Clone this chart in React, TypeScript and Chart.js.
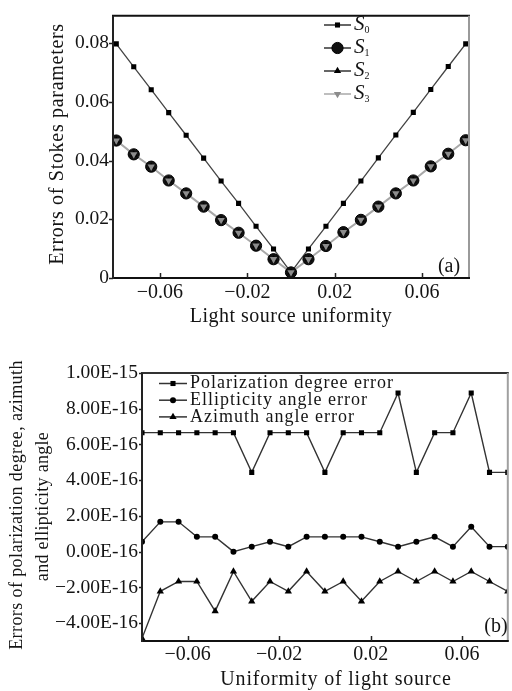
import React, { useEffect, useRef } from 'react';
import { Chart, registerables } from 'chart.js';
import { drawPoint } from 'chart.js/helpers';

Chart.register(...registerables);

// ---------- data ----------
const X_VALUES = [-0.08, -0.072, -0.064, -0.056, -0.048, -0.04, -0.032, -0.024, -0.016, -0.008, 0, 0.008, 0.016, 0.024, 0.032, 0.04, 0.048, 0.056, 0.064, 0.072, 0.08];

// panel (a): Stokes parameter errors
const S0 = [0.0797, 0.0719, 0.0641, 0.0563, 0.0486, 0.0408, 0.033, 0.0254, 0.0176, 0.0099, 0.0019, 0.0099, 0.0176, 0.0254, 0.033, 0.0409, 0.0487, 0.0564, 0.0642, 0.072, 0.0797];
const S1 = [0.0468, 0.0421, 0.0379, 0.0332, 0.0288, 0.0243, 0.0197, 0.0154, 0.011, 0.0064, 0.0019, 0.0064, 0.0109, 0.0156, 0.0198, 0.0243, 0.0288, 0.0332, 0.038, 0.0423, 0.0469];
const S2 = [0.0468, 0.0421, 0.0379, 0.0332, 0.0288, 0.0243, 0.0197, 0.0154, 0.011, 0.0064, 0.0019, 0.0064, 0.0109, 0.0156, 0.0198, 0.0243, 0.0288, 0.0332, 0.038, 0.0423, 0.0469];
const S3 = [0.0468, 0.0421, 0.0379, 0.0332, 0.0288, 0.0243, 0.0197, 0.0154, 0.011, 0.0064, 0.0019, 0.0064, 0.0109, 0.0156, 0.0198, 0.0243, 0.0288, 0.0332, 0.038, 0.0423, 0.0469];
const A_LEGEND_SUBS = ['0', '1', '2', '3'];
const A_X_TICKS = [-0.06, -0.02, 0.02, 0.06];
const A_X_LABELS = ['\u22120.06', '\u22120.02', '0.02', '0.06'];
const A_Y_TICKS = [0, 0.02, 0.04, 0.06, 0.08];
const A_Y_LABELS = ['0', '0.02', '0.04', '0.06', '0.08'];
const A_X_TITLE = 'Light source uniformity';
const A_Y_TITLE = 'Errors of Stokes parameters';
const A_PANEL = '(a)';

// panel (b): polarization errors
const POL_ERR = [6.66e-16, 6.66e-16, 6.66e-16, 6.66e-16, 6.66e-16, 6.66e-16, 4.44e-16, 6.66e-16, 6.66e-16, 6.66e-16, 4.44e-16, 6.66e-16, 6.66e-16, 6.66e-16, 8.88e-16, 4.44e-16, 6.66e-16, 6.66e-16, 8.88e-16, 4.44e-16, 4.44e-16];
const ELL_ERR = [0.555e-16, 1.67e-16, 1.67e-16, 0.83e-16, 0.83e-16, 0, 0.28e-16, 0.555e-16, 0.28e-16, 0.83e-16, 0.83e-16, 0.83e-16, 0.83e-16, 0.555e-16, 0.28e-16, 0.555e-16, 0.83e-16, 0.28e-16, 1.39e-16, 0.28e-16, 0.28e-16];
const AZI_ERR = [-4.85e-16, -2.22e-16, -1.67e-16, -1.67e-16, -3.33e-16, -1.11e-16, -2.78e-16, -1.67e-16, -2.22e-16, -1.11e-16, -2.22e-16, -1.67e-16, -2.78e-16, -1.67e-16, -1.11e-16, -1.67e-16, -1.11e-16, -1.67e-16, -1.11e-16, -1.67e-16, -2.22e-16];
const B_LEGEND = ['Polarization degree error', 'Ellipticity angle error', 'Azimuth angle error'];
const B_X_TICKS = [-0.06, -0.02, 0.02, 0.06];
const B_X_LABELS = ['\u22120.06', '\u22120.02', '0.02', '0.06'];
const B_Y_TICKS = [-4e-16, -2e-16, 0, 2e-16, 4e-16, 6e-16, 8e-16, 1e-15];
const B_Y_LABELS = ['\u22124.00E-16', '\u22122.00E-16', '0.00E-16', '2.00E-16', '4.00E-16', '6.00E-16', '8.00E-16', '1.00E-15'];
const B_X_TITLE = 'Uniformity of light source';
const B_Y_TITLE = ['Errors of polarization degree, azimuth', 'and ellipticity angle'];
const B_PANEL = '(b)';

// ---------- styling helpers ----------
const SERIF = '"Liberation Serif", "DejaVu Serif", serif';
const INK = '#141414';

type TextItem = { text: string; x: number; y: number; size: number; rotate?: number; spacing?: number; style?: string; align?: CanvasTextAlign };

function drawText(ctx: CanvasRenderingContext2D, t: TextItem) {
  ctx.save();
  ctx.font = `${t.style || 'normal'} ${t.size}px ${SERIF}`;
  ctx.fillStyle = INK;
  (ctx as any).letterSpacing = `${t.spacing || 0}px`;
  ctx.textAlign = t.align || 'center';
  ctx.textBaseline = 'middle';
  ctx.translate(t.x, t.y);
  if (t.rotate) ctx.rotate(t.rotate);
  ctx.fillText(t.text, 0, 0);
  ctx.restore();
}

type DecoCfg = {
  frame: { top: string; right: string; bottom: string; left: string };
  xTickLen: number;
  yTickLen: number;
  texts: TextItem[];
  legend: (ctx: CanvasRenderingContext2D, chart: any) => void;
};

function makeDeco(cfg: DecoCfg) {
  return {
    id: 'deco',
    afterDraw(chart: any) {
      const ctx: CanvasRenderingContext2D = chart.ctx;
      const { left, right, top, bottom } = chart.chartArea;
      ctx.save();
      ctx.lineWidth = 2;
      const seg = (c: string, x1: number, y1: number, x2: number, y2: number) => {
        ctx.strokeStyle = c;
        ctx.beginPath();
        ctx.moveTo(x1, y1);
        ctx.lineTo(x2, y2);
        ctx.stroke();
      };
      seg(cfg.frame.top, left - 1, top, right + 1, top);
      seg(cfg.frame.right, right, top, right, bottom);
      seg(cfg.frame.bottom, left - 1, bottom, right + 1, bottom);
      seg(cfg.frame.left, left, top, left, bottom + 1);
      ctx.lineWidth = 1.5;
      const xs = chart.scales.x;
      xs.ticks.forEach((t: any) => {
        const px = Math.round(xs.getPixelForValue(t.value)) + 0.5;
        seg('#222', px, bottom, px, bottom - cfg.xTickLen);
      });
      const ys = chart.scales.y;
      ys.ticks.forEach((t: any) => {
        const py = Math.round(ys.getPixelForValue(t.value)) + 0.5;
        seg('#222', left - cfg.yTickLen, py, left, py);
      });
      ctx.restore();
      cfg.texts.forEach((t) => drawText(ctx, t));
      cfg.legend(ctx, chart);
    },
  };
}

function legendMarker(ctx: CanvasRenderingContext2D, ds: any, x: number, y: number) {
  ctx.save();
  ctx.fillStyle = ds.pointBackgroundColor;
  ctx.strokeStyle = ds.pointBorderColor;
  ctx.lineWidth = ds.pointBorderWidth || 0;
  drawPoint(ctx, { pointStyle: ds.pointStyle, rotation: ds.pointRotation || 0, radius: ds.pointRadius, borderWidth: ds.pointBorderWidth || 0 }, x, y);
  ctx.restore();
}

const pts = (ys: number[]) => X_VALUES.map((x, i) => ({ x, y: ys[i] }));

const fixedTicks = (vals: number[]) => (s: any) => {
  s.ticks = vals.map((v) => ({ value: v }));
};

export default function App() {
  const refA = useRef<HTMLCanvasElement>(null);
  const refB = useRef<HTMLCanvasElement>(null);

  useEffect(() => {
    const legendALines = ['#333', '#333', '#333', '#a8a8a8'];
    const decoA = makeDeco({
      frame: { top: '#111', right: '#9a9a9a', bottom: '#111', left: '#222' },
      xTickLen: 5,
      yTickLen: 4,
      texts: [
        { text: A_Y_TITLE, x: 58, y: 144, size: 20, rotate: -Math.PI / 2, spacing: 0.7 },
        { text: A_X_TITLE, x: 291, y: 317, size: 20, spacing: 0.5 },
        { text: A_PANEL, x: 449, y: 267, size: 20 },
      ],
      legend: (ctx, chart) => {
        chart.data.datasets.forEach((ds: any, i: number) => {
          const y = 25 + 23 * i;
          ctx.save();
          ctx.strokeStyle = legendALines[i];
          ctx.lineWidth = 1.5;
          ctx.beginPath();
          ctx.moveTo(324, y);
          ctx.lineTo(351, y);
          ctx.stroke();
          ctx.restore();
          legendMarker(ctx, ds, 337.5, y);
          drawText(ctx, { text: 'S', x: 354, y: y - 1, size: 21, style: 'italic', align: 'left' });
          ctx.save();
          ctx.font = `italic 21px ${SERIF}`;
          const w = ctx.measureText('S').width;
          ctx.restore();
          drawText(ctx, { text: A_LEGEND_SUBS[i], x: 354 + w, y: y + 5, size: 10, align: 'left' });
        });
      },
    });

    const chartA = new Chart(refA.current as HTMLCanvasElement, {
      type: 'line',
      data: {
        datasets: [
          { label: 'S0', data: pts(S0), borderColor: '#444', borderWidth: 1.3, pointStyle: 'rect', pointRadius: 3.6, pointBackgroundColor: '#000', pointBorderColor: '#000', pointBorderWidth: 0, order: 3 },
          { label: 'S1', data: pts(S1), borderColor: '#a8a8a8', borderWidth: 2, pointStyle: 'circle', pointRadius: 5.6, pointBackgroundColor: '#111', pointBorderColor: '#000', pointBorderWidth: 1, order: 2 },
          { label: 'S2', data: pts(S2), showLine: false, borderColor: '#a8a8a8', pointStyle: 'triangle', pointRadius: 4.2, pointBackgroundColor: '#000', pointBorderColor: '#000', pointBorderWidth: 0, order: 1 },
          { label: 'S3', data: pts(S3), showLine: false, borderColor: '#a8a8a8', pointStyle: 'triangle', pointRotation: 180, pointRadius: 4.2, pointBackgroundColor: '#8c8c8c', pointBorderColor: '#8c8c8c', pointBorderWidth: 0, order: 0 },
        ] as any,
      },
      options: {
        responsive: false,
        animation: false,
        events: [],
        layout: { padding: { top: 10, right: 43, left: 0, bottom: 0 } },
        plugins: { legend: { display: false }, tooltip: { enabled: false } },
        scales: {
          x: {
            type: 'linear', min: -0.0815, max: 0.0815,
            afterBuildTicks: fixedTicks(A_X_TICKS),
            afterFit: (s: any) => { s.height = 52; },
            grid: { display: false, drawTicks: false }, border: { display: false },
            ticks: { callback: (_v: any, i: number) => A_X_LABELS[i], font: { family: SERIF, size: 20 }, color: INK, padding: 3, maxRotation: 0, autoSkip: false },
          },
          y: {
            type: 'linear', min: 0, max: 0.0893,
            afterBuildTicks: fixedTicks(A_Y_TICKS),
            afterFit: (s: any) => { s.width = 113; },
            grid: { display: false, drawTicks: false }, border: { display: false },
            ticks: { callback: (_v: any, i: number) => A_Y_LABELS[i], font: { family: SERIF, size: 19.5 }, color: INK, padding: 4, autoSkip: false },
          },
        },
      } as any,
      plugins: [decoA],
    });

    const decoB = makeDeco({
      frame: { top: '#333', right: '#a0a0a0', bottom: '#111', left: '#222' },
      xTickLen: 5,
      yTickLen: 3,
      texts: [
        { text: B_Y_TITLE[0], x: 17, y: 175, size: 18, rotate: -Math.PI / 2, spacing: 0.4 },
        { text: B_Y_TITLE[1], x: 43, y: 176.5, size: 18, rotate: -Math.PI / 2, spacing: 0.3 },
        { text: B_X_TITLE, x: 336, y: 349.5, size: 20, spacing: 0.8 },
        { text: B_PANEL, x: 496, y: 297, size: 20 },
      ],
      legend: (ctx, chart) => {
        chart.data.datasets.forEach((ds: any, i: number) => {
          const y = 53.5 + 16.7 * i;
          ctx.save();
          ctx.strokeStyle = '#333';
          ctx.lineWidth = 1.5;
          ctx.beginPath();
          ctx.moveTo(159, y);
          ctx.lineTo(187, y);
          ctx.stroke();
          ctx.restore();
          legendMarker(ctx, ds, 173, y);
          drawText(ctx, { text: B_LEGEND[i], x: 190, y: y, size: 18, spacing: 1, align: 'left' });
        });
      },
    });

    const chartB = new Chart(refB.current as HTMLCanvasElement, {
      type: 'line',
      data: {
        datasets: [
          { label: B_LEGEND[0], data: pts(POL_ERR), borderColor: '#333', borderWidth: 1.4, pointStyle: 'rect', pointRadius: 3.6, pointBackgroundColor: '#000', pointBorderColor: '#000', pointBorderWidth: 0 },
          { label: B_LEGEND[1], data: pts(ELL_ERR), borderColor: '#333', borderWidth: 1.4, pointStyle: 'circle', pointRadius: 3, pointBackgroundColor: '#000', pointBorderColor: '#000', pointBorderWidth: 0 },
          { label: B_LEGEND[2], data: pts(AZI_ERR), borderColor: '#333', borderWidth: 1.4, pointStyle: 'triangle', pointRadius: 4.2, pointBackgroundColor: '#000', pointBorderColor: '#000', pointBorderWidth: 0 },
        ] as any,
      },
      options: {
        responsive: false,
        animation: false,
        events: [],
        layout: { padding: { top: 43, right: 1, left: 0, bottom: 0 } },
        plugins: { legend: { display: false }, tooltip: { enabled: false } },
        scales: {
          x: {
            type: 'linear', min: -0.08, max: 0.08,
            afterBuildTicks: fixedTicks(B_X_TICKS),
            afterFit: (s: any) => { s.height = 50; },
            grid: { display: false, drawTicks: false }, border: { display: false },
            ticks: { callback: (_v: any, i: number) => B_X_LABELS[i], font: { family: SERIF, size: 20 }, color: INK, padding: 2, maxRotation: 0, autoSkip: false },
          },
          y: {
            type: 'linear', min: -5e-16, max: 1e-15,
            afterBuildTicks: fixedTicks(B_Y_TICKS),
            afterFit: (s: any) => { s.width = 142; },
            grid: { display: false, drawTicks: false }, border: { display: false },
            ticks: { callback: (_v: any, i: number) => B_Y_LABELS[i], font: { family: SERIF, size: 19.5 }, color: INK, padding: 4, autoSkip: false },
          },
        },
      } as any,
      plugins: [decoB],
    });

    return () => {
      chartA.destroy();
      chartB.destroy();
    };
  }, []);

  return (
    <div style={{ position: 'fixed', left: 0, top: 0, width: 512, height: 691, background: '#fff', overflow: 'hidden' }}>
      <canvas ref={refA} width={512} height={330} style={{ position: 'absolute', left: 0, top: 0 }} />
      <canvas ref={refB} width={512} height={361} style={{ position: 'absolute', left: 0, top: 330 }} />
    </div>
  );
}
